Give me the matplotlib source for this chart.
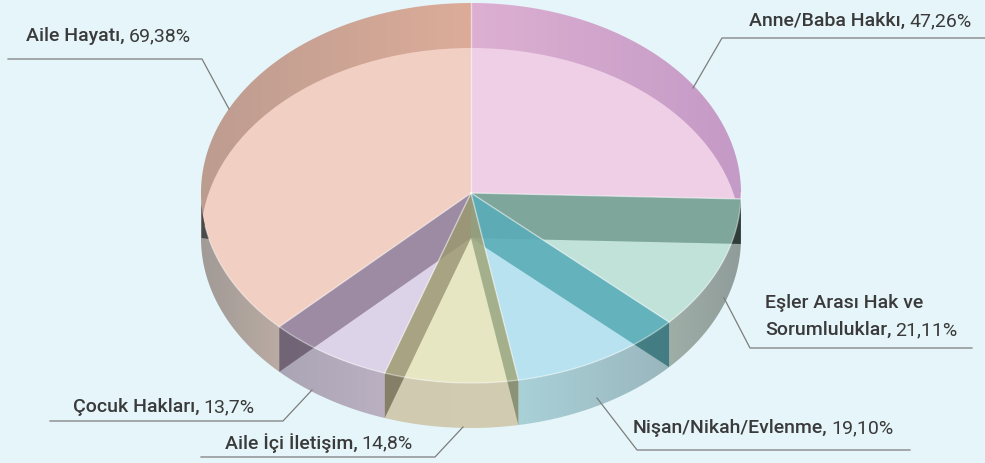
"""
3D-looking pie of topic shares, painted slice by slice in pixel coordinates.
"""

import numpy as np
import matplotlib
matplotlib.use('Agg')
import matplotlib.pyplot as plt
from matplotlib.colors import LinearSegmentedColormap
from matplotlib.patches import Polygon, Ellipse

# ---- data ----
names = ['Anne/Baba Hakkı', 'Eşler Arası Hak ve\nSorumluluklar', 'Nişan/Nikah/Evlenme',
         'Aile İçi İletişim', 'Çocuk Hakları', 'Aile Hayatı']
values = [47.26, 21.11, 19.10, 14.8, 13.7, 69.38]
value_labels = ['47,26%', '21,11%', '19,10%', '14,8%', '13,7%', '69,38%']

face_colors = ['#efcfe6', '#c0e2d8', '#b9e2f0', '#e6e6c2', '#ddd3e8', '#f2cfc3']
# rim colours from the left to the right end of each slice
rim_colors = [['#ddb0d2', '#c49ac6'], ['#a0aea8', '#8f9c9a'], ['#a9d1d8', '#9ab6bd'],
              ['#cfcab0', '#d2cdb2'], ['#aaa5b5', '#bab0c2'], ['#a19a96', '#baaba3']]
wall_colors = [None, '#4e7e70', '#2a9ba2', '#768c68', '#7e7454', '#6e5670']
wall_alpha = [0, 0.5, 0.55, 0.5, 0.5, 0.5]
rim_shade = [0, 0.55, 0.22, 0.1, 0.15, 0.15]

# leader lines and label anchors, one per slice
leaders = [[(693, 88), (722, 38), (985, 38)],
           [(724, 298), (750, 348), (972, 348)],
           [(597, 398), (637, 450), (910, 450)],
           [(463, 427), (435, 457), (201, 457)],
           [(312, 390), (283, 421), (50, 421)],
           [(229, 109), (202, 59), (8, 59)]]
label_pos = [(749, 21), (765, 330), (633, 428), (225, 443), (73, 407), (26, 36)]

BG = '#e5f5fa'
TEXT = '#3a3a3a'
FS = 14
CX, CY, RX, RY, DEPTH = 471, 193, 270, 190, 45


def rim_point(theta, shift=0):
    rad = np.radians(theta)
    return CX + RX * np.cos(rad), CY - RY * np.sin(rad) + shift


def arc(t1, t2, shift=0):
    t = np.linspace(t1, t2, max(int(abs(t2 - t1)) * 2, 2))
    return np.column_stack(rim_point(t, shift))


def ray_sector(t1, t2):
    """Wedge between two cut directions, long enough to hold a wall."""
    a = np.array(rim_point(t1)) - (CX, CY)
    b = np.array(rim_point(t2)) - (CX, CY)
    return [(CX, CY), (CX + 3 * a[0], CY + 3 * a[1]), (CX + 3 * b[0], CY + 3 * b[1])]


def gradient(ax, clip, stops, x0, x1):
    cmap = LinearSegmentedColormap.from_list('g', stops)
    im = ax.imshow(np.linspace(0, 1, 256)[None, :], cmap=cmap, extent=(x0, x1, 463, 0),
                   aspect='auto', zorder=1, interpolation='bilinear')
    im.set_clip_path(clip)
    return im


def add_label(ax, fig, xy, name, value):
    lines = name.split('\n')
    x, y = xy
    if len(lines) > 1:
        ax.text(x, y - 27, lines[0], color=TEXT, fontsize=FS, fontweight='medium',
                family='Roboto', va='center', zorder=6)
    t = ax.text(x, y, lines[-1] + ',', color=TEXT, fontsize=FS, fontweight='medium',
                family='Roboto', va='center', zorder=6)
    box = t.get_window_extent(fig.canvas.get_renderer())
    ax.text(box.x1 + 4, y, value, color=TEXT, fontsize=FS, family='Roboto',
            va='center', zorder=6)


fig = plt.figure(figsize=(9.85, 4.63), dpi=100, facecolor=BG)
ax = fig.add_axes([0, 0, 1, 1])
ax.set_facecolor(BG)
ax.axis('off')
ax.set_xlim(0, 985)
ax.set_ylim(463, 0)
ax.set_autoscale_on(False)

sweep = np.array(values) / sum(values) * 360
edges = 90 - np.concatenate([[0], np.cumsum(sweep)])

bottom = Ellipse((CX, CY + DEPTH), 2 * RX, 2 * RY, transform=ax.transData)

for i in range(len(values)):
    sector = np.vstack([[(CX, CY)], arc(edges[i], edges[i + 1])])
    # the darker band behind: whole sector, the face then covers most of it
    if i == 0:
        gradient(ax, Polygon(sector, transform=ax.transData), rim_colors[0], CX, CX + RX)
    elif i == 5:
        gradient(ax, Polygon(sector, transform=ax.transData), ['#bd9c90', '#dcac99'], CX - RX, CX)
    face = Polygon(sector, facecolor=face_colors[i], edgecolor='none', zorder=2)
    ax.add_patch(face)
    if i in (0, 5):
        face.set_clip_path(bottom)

# front rim, below the upper ellipse
for i in range(1, len(values)):
    t1, t2 = edges[i], edges[i + 1]
    if i == len(values) - 1:
        t2 = -180
    poly = np.vstack([arc(t1, t2), arc(t2, t1, DEPTH)])
    gradient(ax, Polygon(poly, transform=ax.transData), rim_colors[i],
             poly[:, 0].min(), poly[:, 0].max())

# small dark sliver on the far left edge
sliver = np.vstack([arc(-166, -174), [(201.5, 204), (201.5, 238)]])
ax.add_patch(Polygon(sliver, facecolor='#4a4a4a', edgecolor='none', zorder=3))

front_rim = np.vstack([arc(0, -180), arc(-180, 0, DEPTH)])

# side walls of the cuts, translucent over whatever lies below
for i in [1, 2, 3, 4, 5]:
    x, y = rim_point(edges[i])
    wall = [(CX, CY), (x, y), (x, y + DEPTH), (CX, CY + DEPTH)]
    # right side walls fall on their own slice, left side ones on the previous slice
    s = i if x > CX else i - 1
    shade = Polygon(wall, facecolor='black', edgecolor='none', alpha=0.08, zorder=3)
    ax.add_patch(shade)
    p = Polygon(wall, facecolor=wall_colors[i], edgecolor='none', alpha=wall_alpha[i], zorder=3)
    ax.add_patch(p)
    p.set_clip_path(Polygon(ray_sector(edges[s], edges[s + 1]), transform=ax.transData))
    over_rim = Polygon(wall, facecolor='black', edgecolor='none', alpha=rim_shade[i], zorder=3)
    ax.add_patch(over_rim)
    over_rim.set_clip_path(Polygon(front_rim, transform=ax.transData))

# light seams along the cuts and the front edge
for t in edges[:-1]:
    x, y = rim_point(t)
    ax.plot([CX, x], [CY, y], color='white', lw=1, alpha=0.5, zorder=4)
front = arc(0, -170)
ax.plot(front[:, 0], front[:, 1], color='white', lw=1, alpha=0.4, zorder=4)

for i in range(len(values)):
    pts = np.array(leaders[i])
    ax.plot(pts[:, 0], pts[:, 1], color='#7d7d7d', lw=0.9, zorder=5)
    add_label(ax, fig, label_pos[i], names[i], value_labels[i])

fig.savefig('out.png', dpi=100, facecolor=BG)
